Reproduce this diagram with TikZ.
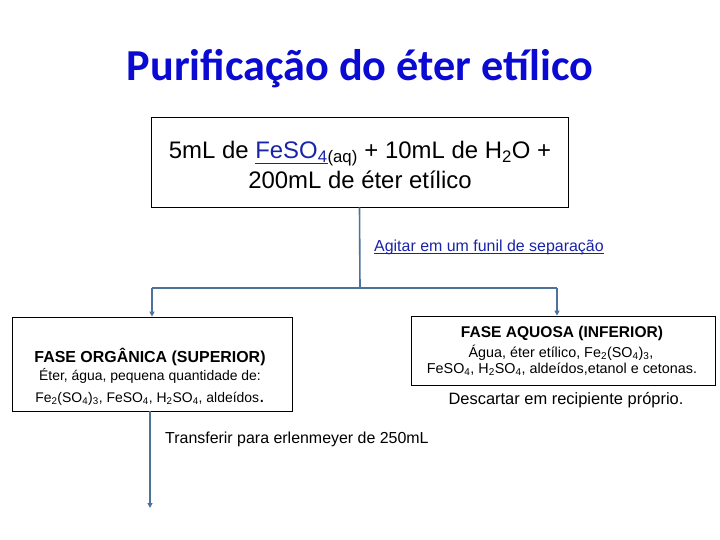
\documentclass[tikz,border=0pt]{standalone}
\usepackage{fontspec}
\setmainfont{Liberation Sans}
\newfontfamily\calib{Carlito}
\usetikzlibrary{arrows.meta}
\definecolor{ttl}{RGB}{10,10,210}
\definecolor{lnk}{RGB}{25,35,170}
\definecolor{conn}{RGB}{78,115,155}
\newcommand{\sbs}[1]{\textsubscript{#1}}
\newcommand{\fs}[1]{\fontsize{#1}{#1}\selectfont}
\newcommand{\ulin}[2]{\setbox0\hbox{#2}\rlap{\rule[-#1]{\wd0}{0.9bp}}\box0}
\begin{document}
\begin{tikzpicture}[x=1bp,y=-1bp,
  box/.style={draw=black,line width=0.8bp,fill=white,inner sep=0pt},
  txt/.style={anchor=base,inner sep=0pt,align=center},
  conline/.style={draw=conn,line width=1.6bp},
  arr/.style={conline,-{Triangle[length=5bp,width=5bp]}}]
\useasboundingbox (0,0) rectangle (720,540);
\node[txt,text=ttl,font=\calib\bfseries\fs{44.4}] (title) at (360,81) {Purificação do éter etílico};
% boxes
\node[box,minimum width=417bp,minimum height=90bp] (top) at (359.5,162) {};
\node[box,minimum width=280bp,minimum height=94bp] (left) at (152,364) {};
\node[box,minimum width=304bp,minimum height=69bp] (right) at (563,350.5) {};
% top box text
\node[txt,font=\fs{24}] (t1) at (360,159) {5mL de \textcolor{lnk}{\ulin{4.5bp}{FeSO\sbs{4}}}\sbs{(aq)} + 10mL de H\sbs{2}O +};
\node[txt,font=\fs{24}] (t2) at (360,189) {200mL de éter etílico};
% connectors
\coordinate (j) at (360,288);
\coordinate (jl) at (152,288);
\coordinate (jr) at (557,288);
\coordinate (fin) at (150,508);
\draw[conline] (top.south) -- (j);
\draw[conline] (jl) -- (jr);
\draw[arr] (jl) -- (left.north);
\draw[arr] (jr) -- (jr |- right.north);
\draw[arr] (fin |- left.south) -- (fin);
% labels
\node[txt,anchor=base west,text=lnk,font=\fs{16}] (agit) at (374,252) {\ulin{2bp}{Agitar em um funil de separação}};
\node[txt,font=\bfseries\fs{16}] (l1) at (150,362) {FASE ORGÂNICA (SUPERIOR)};
\node[txt,font=\fs{14}] (l2) at (150,380) {Éter, água, pequena quantidade de:};
\node[txt,font=\fs{14}] (l3) at (150,402) {Fe\sbs{2}(SO\sbs{4})\sbs{3}, FeSO\sbs{4}, H\sbs{2}SO\sbs{4}, aldeídos{\fs{20}.}};
\node[txt,font=\bfseries\fs{15.6}] (r1) at (562,337) {FASE AQUOSA (INFERIOR)};
\node[txt,font=\fs{14.4}] (r2) at (561,357) {Água, éter etílico, Fe\sbs{2}(SO\sbs{4})\sbs{3},};
\node[txt,font=\fs{14.4}] (r3) at (562,373) {FeSO\sbs{4}, H\sbs{2}SO\sbs{4}, aldeídos,etanol e cetonas.};
\node[txt,font=\fs{16.5}] (desc) at (566,404) {Descartar em recipiente próprio.};
\node[txt,anchor=base west,font=\fs{16}] (transf) at (165,443) {Transferir para erlenmeyer de 250mL};
\end{tikzpicture}
\end{document}
